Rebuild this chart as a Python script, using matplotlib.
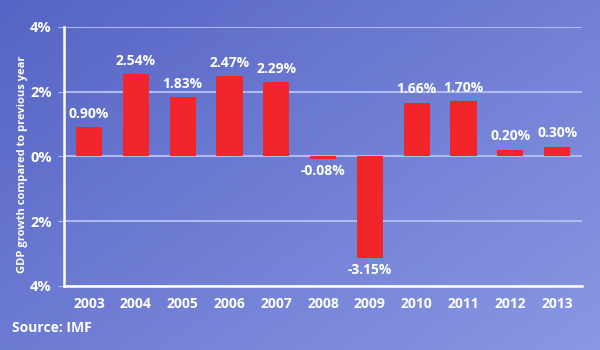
import numpy as np
import matplotlib.pyplot as plt
from matplotlib.colors import LinearSegmentedColormap

years = ['2003', '2004', '2005', '2006', '2007', '2008', '2009', '2010', '2011', '2012', '2013']
growth = [0.90, 2.54, 1.83, 2.47, 2.29, -0.08, -3.15, 1.66, 1.70, 0.20, 0.30]
yticks = [-4, -2, 0, 2, 4]
ytick_labels = ['4%', '2%', '0%', '2%', '4%']

plt.rcParams['font.family'] = ['Open Sans', 'DejaVu Sans']
plt.rcParams['font.weight'] = 'bold'

fig = plt.figure(figsize=(6, 3.5), dpi=100)

# gradient background
bg = fig.add_axes([0, 0, 1, 1], zorder=-10)
gx, gy = np.meshgrid(np.linspace(0, 1, 200), np.linspace(0, 1, 120))
grad = 0.55 * gx + 0.45 * gy
cmap = LinearSegmentedColormap.from_list('bg', ['#5664c5', '#8898e2'])
bg.imshow(grad, cmap=cmap, aspect='auto', extent=[0, 1, 0, 1], origin='upper')
bg.axis('off')

ax = fig.add_axes([0.107, 0.183, 0.863, 0.74])
ax.patch.set_alpha(0)
x = np.arange(len(years))
ax.bar(x, growth, width=0.56, color='#f2262a', zorder=3)
ax.set_xlim(-0.53, len(years) - 0.47)
ax.set_ylim(-4, 4)

for xi, v in zip(x, growth):
    if v >= 0:
        ax.text(xi, v + 0.2, '%.2f%%' % v, ha='center', va='bottom', color='white', fontsize=10, fontweight='bold')
    else:
        ax.text(xi, v - 0.15, '%.2f%%' % v, ha='center', va='top', color='white', fontsize=10, fontweight='bold')

ax.set_yticks(yticks)
ax.set_yticklabels(ytick_labels)
ax.set_xticks(x)
ax.set_xticklabels(years)
ax.tick_params(axis='y', colors='white', labelsize=10.5, length=4, color='#b4bef0', pad=5)
ax.tick_params(axis='x', colors='white', labelsize=10, length=0, pad=8)
for lab in ax.get_xticklabels() + ax.get_yticklabels():
    lab.set_fontweight('bold')

ax.grid(axis='y', color='#b0baf0', linewidth=1.5, zorder=1)
for s in ['top', 'right']:
    ax.spines[s].set_visible(False)
ax.spines['left'].set_color('white')
ax.spines['bottom'].set_color('white')
ax.spines['left'].set_linewidth(1.8)
ax.spines['bottom'].set_linewidth(1.8)

ax.set_ylabel('GDP growth compared to previous year', color='white', fontsize=8, fontweight='bold')
ax.yaxis.set_label_coords(-0.07, 0.47)
fig.text(0.02, 0.05, 'Source: IMF', color='white', fontsize=10, fontweight='bold')

fig.savefig('out.png', dpi=100)
